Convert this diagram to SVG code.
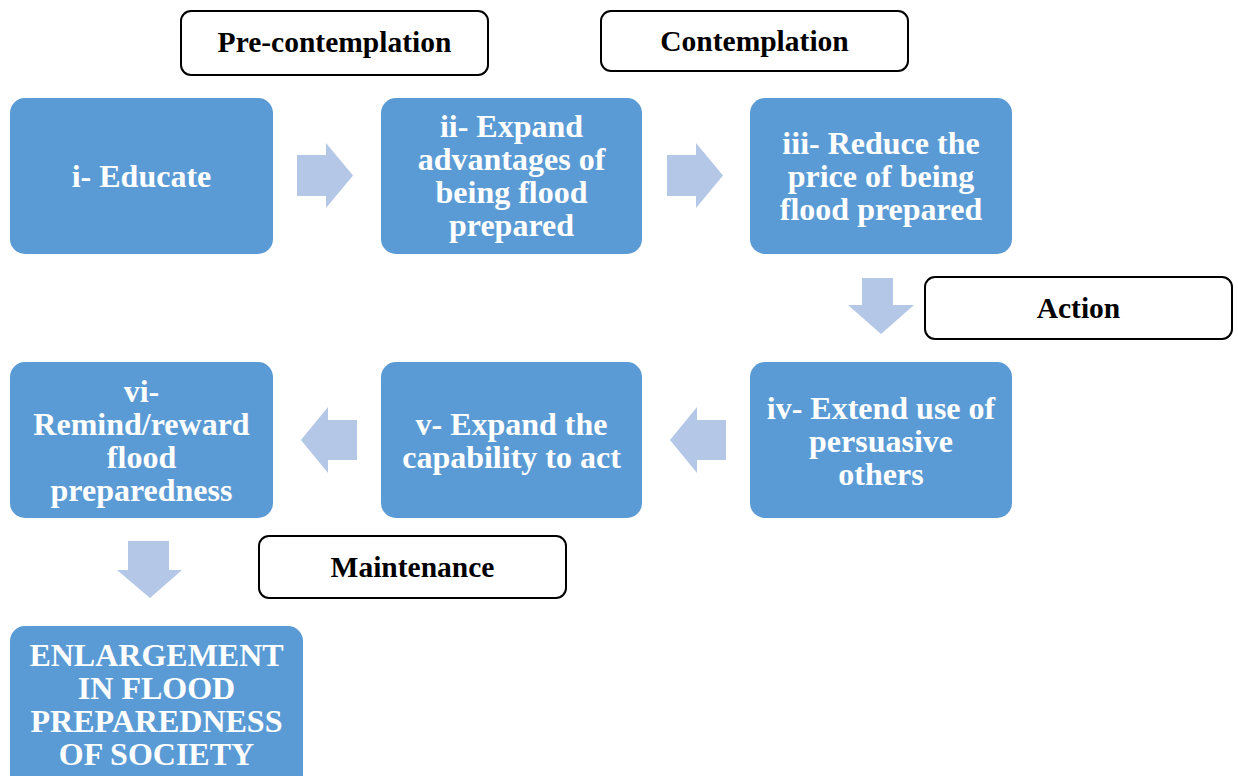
<svg xmlns="http://www.w3.org/2000/svg" width="1238" height="776" viewBox="0 0 1238 776">
<style>
.box{fill:#5B9BD5;}
.lbl{fill:#FFFFFF;stroke:#000000;stroke-width:2;}
.arr{fill:#B4C7E7;}
.bt{font-family:'Liberation Serif','DejaVu Serif',serif;font-weight:bold;font-size:32px;fill:#FFFFFF;text-anchor:middle;}
.lt{font-family:'Liberation Serif','DejaVu Serif',serif;font-weight:bold;font-size:29.5px;fill:#000000;text-anchor:middle;}
</style>
<rect width="1238" height="776" fill="#FFFFFF"/>
<g id="connectors">
<polygon class="arr" points="297,155 326,155 326,143 353,175.5 326,208 326,196 297,196"/>
<polygon class="arr" points="667,155 696,155 696,143 723,175.5 696,208 696,196 667,196"/>
<polygon class="arr" points="862,278 893,278 893,305 914,305 881,334 848,305 862,305"/>
<polygon class="arr" points="726,420 697,420 697,407 670,440 697,473 697,460 726,460"/>
<polygon class="arr" points="357,420 328,420 328,407 301,440 328,473 328,460 357,460"/>
<polygon class="arr" points="128,541 169,541 169,570 182,570 150,598 117,570 128,570"/>
</g>
<g id="label-precontemplation">
<rect class="lbl" x="181" y="11" width="307" height="64" rx="10"/>
<text class="lt" x="334.5" y="52">Pre-contemplation</text>
</g>
<g id="label-contemplation">
<rect class="lbl" x="601" y="11" width="307" height="60" rx="10"/>
<text class="lt" x="754.5" y="51">Contemplation</text>
</g>
<g id="label-action">
<rect class="lbl" x="925" y="277" width="307" height="62" rx="10"/>
<text class="lt" x="1078.5" y="318">Action</text>
</g>
<g id="label-maintenance">
<rect class="lbl" x="259" y="536" width="307" height="62" rx="10"/>
<text class="lt" x="412.5" y="577">Maintenance</text>
</g>
<g id="node-i">
<rect class="box" x="10" y="98" width="263" height="156" rx="15"/>
<text class="bt" x="141.5" y="187">i- Educate</text>
</g>
<g id="node-ii">
<rect class="box" x="381" y="98" width="261" height="156" rx="15"/>
<text class="bt" x="511.5" y="137">ii- Expand</text>
<text class="bt" x="511.5" y="170">advantages of</text>
<text class="bt" x="511.5" y="203">being flood</text>
<text class="bt" x="511.5" y="236">prepared</text>
</g>
<g id="node-iii">
<rect class="box" x="750" y="98" width="262" height="156" rx="15"/>
<text class="bt" x="881" y="154">iii- Reduce the</text>
<text class="bt" x="881" y="187">price of being</text>
<text class="bt" x="881" y="220">flood prepared</text>
</g>
<g id="node-iv">
<rect class="box" x="750" y="362" width="262" height="156" rx="15"/>
<text class="bt" x="881" y="419">iv- Extend use of</text>
<text class="bt" x="881" y="452">persuasive</text>
<text class="bt" x="881" y="485">others</text>
</g>
<g id="node-v">
<rect class="box" x="381" y="362" width="261" height="156" rx="15"/>
<text class="bt" x="511.5" y="435">v- Expand the</text>
<text class="bt" x="511.5" y="468">capability to act</text>
</g>
<g id="node-vi">
<rect class="box" x="10" y="362" width="263" height="156" rx="15"/>
<text class="bt" x="141.5" y="402">vi-</text>
<text class="bt" x="141.5" y="435">Remind/reward</text>
<text class="bt" x="141.5" y="468">flood</text>
<text class="bt" x="141.5" y="501">preparedness</text>
</g>
<g id="node-final">
<rect class="box" x="10" y="626" width="293" height="170" rx="15"/>
<text class="bt" x="156.5" y="666">ENLARGEMENT</text>
<text class="bt" x="156.5" y="699">IN FLOOD</text>
<text class="bt" x="156.5" y="732">PREPAREDNESS</text>
<text class="bt" x="156.5" y="765">OF SOCIETY</text>
</g>
</svg>
